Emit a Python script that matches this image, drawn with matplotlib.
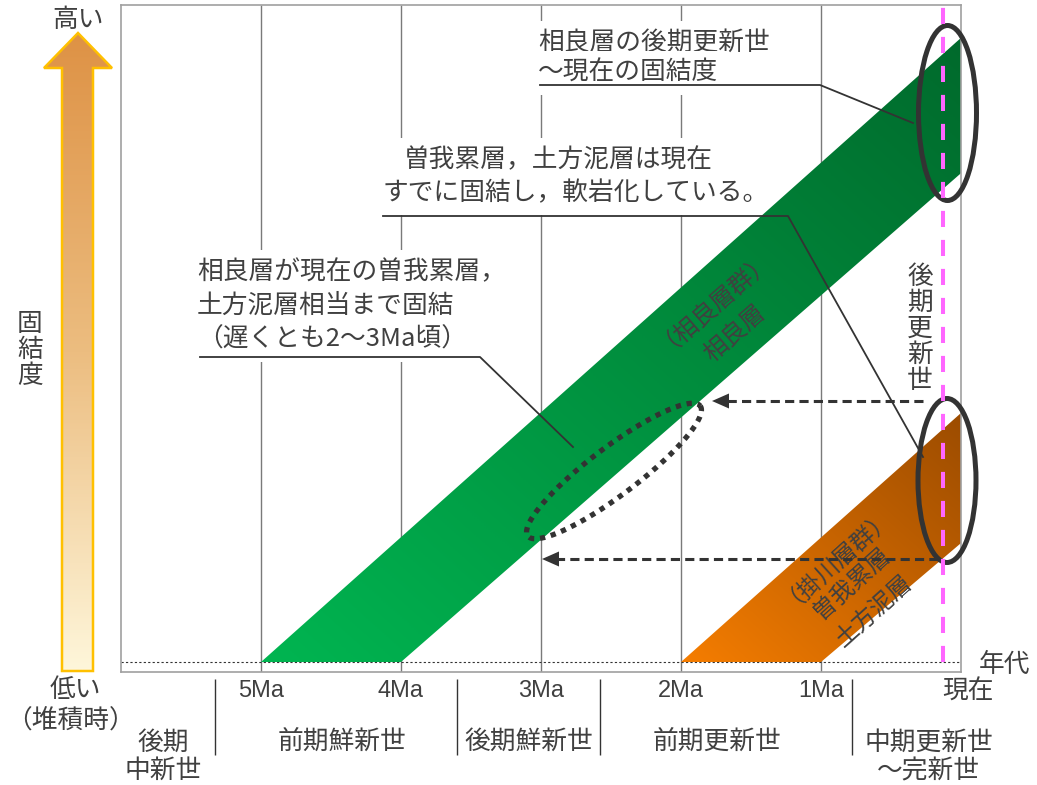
import numpy as np
import matplotlib
matplotlib.use('Agg')
import matplotlib.pyplot as plt
from matplotlib.patches import Polygon, Ellipse
from matplotlib.colors import LinearSegmentedColormap

plt.rcParams['font.family'] = ['Noto Sans CJK JP', 'DejaVu Sans']

# ---------------- data ----------------
age_ticks = [5, 4, 3, 2, 1]
age_tick_labels = ['5Ma', '4Ma', '3Ma', '2Ma', '1Ma']
sagara_deposition = [5.0, 4.0]        # Ma, base of 相良層 band
sagara_present = [74.4, 95.0]         # consolidation at present (lower, upper)
kakegawa_deposition = [2.0, 1.0]      # Ma, base of 掛川層群 band
kakegawa_present = [18.1, 37.9]       # consolidation at present (lower, upper)
late_pleistocene_start = 0.13
epoch_bounds = [5.33, 3.6, 2.58, 0.78]
epoch_labels = ['後期\n中新世', '前期鮮新世', '後期鮮新世', '前期更新世', '中期更新世\n～完新世']
epoch_label_ages = [5.7, 4.42, 3.09, 1.74, 0.23]
sagara_label = ['（相良層群）', '相良層']
kakegawa_label = ['（掛川層群）', '曽我累層', '土方泥層']

TXT = '#404040'
DARK = '#333333'

# pixel-to-data helpers for annotation placement
def A(px):
    return (961 - px) / 140.0

def V(py):
    return (662 - py) / 6.57

fig = plt.figure(figsize=(10.37, 7.85), dpi=100)
bg = fig.add_axes([0, 0, 1, 1])
bg.set_xlim(0, 1037)
bg.set_ylim(785, 0)
bg.axis('off')

ax = fig.add_axes([121 / 1037, 113 / 785, 840 / 1037, 667 / 785])
ax.set_facecolor('white')

# grid lines for ages
ax.vlines(age_ticks, V(672), V(5), colors='#7a7a7a', lw=1, zorder=1)
ax.axhline(0, color=DARK, lw=0.8, ls=(0, (2, 2)), zorder=1)


def gradient_band(dep, now, c0, c1):
    poly = Polygon([(dep[0], 0), (dep[1], 0), (0, now[0]), (0, now[1])],
                   closed=True, fc='none', ec='none')
    ax.add_patch(poly)
    xs = np.linspace(dep[0], 0, 300)
    ys = np.linspace(0, now[1], 300)
    X, Y = np.meshgrid(xs, ys)
    t = 0.5 * ((dep[0] - X) / dep[0] + Y / now[1])
    cmap = LinearSegmentedColormap.from_list('b', [c0, c1])
    im = ax.imshow(t, extent=(dep[0], 0, 0, now[1]), origin='lower', cmap=cmap,
                   aspect='auto', zorder=2, interpolation='bilinear', vmin=0, vmax=1)
    im.set_clip_path(poly)


gradient_band(sagara_deposition, sagara_present, '#00b551', '#006a2c')
gradient_band(kakegawa_deposition, kakegawa_present, '#f57d00', '#9c4c00')

ax.set_xlim(6, 0)
ax.set_ylim(V(672), V(5))
for s in ax.spines.values():
    s.set_color('#a0a0a0')
    s.set_linewidth(1.2)
ax.set_yticks([])
ax.set_xticks(age_ticks, age_tick_labels, fontfamily='Liberation Sans', fontsize=17, color=TXT)
ax.tick_params(axis='x', length=0, pad=6)


# band labels (rotated, one text per line)
def rotated_lines(lines, centers, rot, fs):
    for s, (cx, cy) in zip(lines, centers):
        ax.text(A(cx), V(cy), s, rotation=rot, ha='center', va='center',
                fontsize=fs, color=TXT, rotation_mode='anchor', zorder=4)

rotated_lines(sagara_label, [(711, 296), (735, 333)], 41, 17.5)
rotated_lines(kakegawa_label, [(833, 552), (852, 584), (874, 611)], 42, 17)

# annotation texts (white boxes hide grid lines but sit below the bands)
box = dict(boxstyle='square,pad=0.35', fc='white', ec='none')
def note(px, py, s):
    ax.text(A(px), V(py), s, ha='left', va='center', fontsize=18.5, color=TXT,
            bbox=box, zorder=1.5, clip_on=False)

note(538, 43, '相良層の後期更新世')
note(538, 73, '～現在の固結度')
note(404, 160, '曽我累層，土方泥層は現在')
note(383, 193, 'すでに固結し，軟岩化している。')
note(197, 272, '相良層が現在の曽我累層，')
note(197, 306, '土方泥層相当まで固結')
note(197, 340, '（遅くとも2～3Ma頃）')

def leader(pts):
    ax.plot([A(p[0]) for p in pts], [V(p[1]) for p in pts], color=DARK, lw=1.3,
            zorder=5, clip_on=False)

leader([(540, 85), (820, 85), (913, 123)])
leader([(383, 216), (788, 216), (923, 457)])
leader([(200, 357), (480, 357), (573, 447)])

# vertical label
ax.text(A(920), V(329), '後\n期\n更\n新\n世', ha='center', va='center', fontsize=18.5,
        color=TXT, linespacing=1.0, zorder=4)

# circles
ax.add_patch(Ellipse((A(947.5), V(113)), 58 / 140, 175 / 6.57, fill=False, ec=DARK,
                     lw=3.6, zorder=6, clip_on=False))
ax.add_patch(Ellipse((A(947), V(480.5)), 58 / 140, 164 / 6.57, fill=False, ec=DARK,
                     lw=3.6, zorder=6, clip_on=False))

# pink dashed line (start of Late Pleistocene)
ax.plot([late_pleistocene_start] * 2, [0, V(0)], color='#ff66ff', lw=2.9,
        ls=(0, (4, 3.2)), zorder=7, clip_on=False)

# dashed arrows
def dashed_arrow(x0, x1, py):
    ax.plot([A(x0), A(x1 + 14)], [V(py)] * 2, color=DARK, lw=2.2, ls=(0, (3, 1.7)), zorder=6)
    ax.add_patch(Polygon([(A(x1), V(py)), (A(x1 + 17), V(py - 7.5)), (A(x1 + 17), V(py + 7.5))],
                         closed=True, fc=DARK, ec='none', zorder=6))

dashed_arrow(923, 712, 401)
dashed_arrow(938, 542, 559)

# dotted loop
t = np.linspace(0, 2 * np.pi, 400)
cx, cy, a, b, th = 614, 471, 108, 24, np.deg2rad(37)
px = cx + a * np.cos(t) * np.cos(th) + b * np.sin(t) * np.sin(th)
py = cy - a * np.cos(t) * np.sin(th) + b * np.sin(t) * np.cos(th)
ax.plot(A(px), V(py), color=DARK, lw=3.8, ls=(0, (1, 1.1)), dash_capstyle='butt', zorder=6)

# bottom labels
ax.vlines(epoch_bounds, V(679), V(755), colors=DARK, lw=1, clip_on=False)
for lab, ag in zip(epoch_labels, epoch_label_ages):
    if '\n' in lab:
        ax.text(ag, V(757), lab, ha='center', va='center', fontsize=18.5, color=TXT,
                linespacing=1.1, clip_on=False)
    else:
        ax.text(ag, V(742), lab, ha='center', va='center', fontsize=18.5, color=TXT, clip_on=False)
ax.text(A(968), V(692), '現在', ha='center', va='center', fontsize=18.5, color=TXT, clip_on=False)
ax.text(A(1005), V(665), '年代', ha='center', va='center', fontsize=18.5, color=TXT, clip_on=False)

# left arrow (consolidation)
arrow_pts = [(62, 671), (93, 671), (93, 68), (112, 68), (78, 33), (44, 68), (62, 68)]
arr = Polygon(arrow_pts, closed=True, fc='none', ec='#ffc000', lw=1.8, zorder=3)
bg.add_patch(arr)
grad = np.linspace(0, 1, 300).reshape(-1, 1)
cm2 = LinearSegmentedColormap.from_list('a', ['#fef6da', '#ecbd80', '#de9245'])
im2 = bg.imshow(grad, extent=(44, 112, 671, 33), origin='lower', cmap=cm2, aspect='auto', zorder=2)
im2.set_clip_path(arr)
bg.set_xlim(0, 1037)
bg.set_ylim(785, 0)
bg.text(78, 20, '高い', ha='center', va='center', fontsize=18.5, color=TXT)
bg.text(30, 350, '固\n結\n度', ha='center', va='center', fontsize=18.5, color=TXT, linespacing=1.0)
bg.text(75, 690, '低い', ha='center', va='center', fontsize=18.5, color=TXT)
bg.text(70, 722, '（堆積時）', ha='center', va='center', fontsize=18.5, color=TXT)

fig.savefig('out.png', dpi=100)
